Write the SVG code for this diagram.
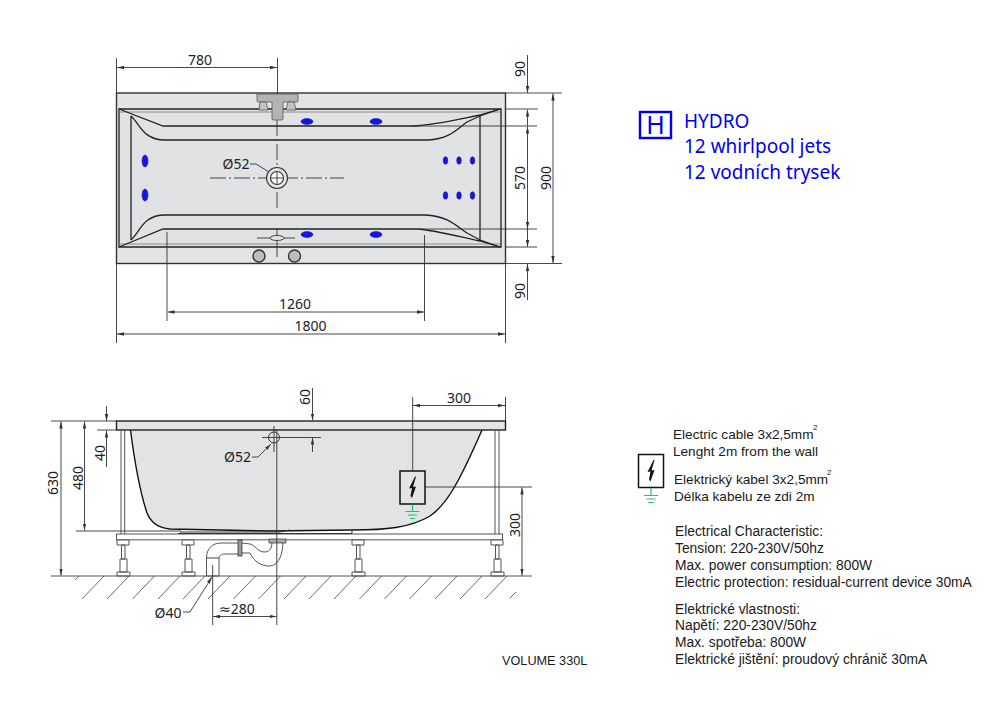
<svg xmlns="http://www.w3.org/2000/svg" width="1000" height="720" viewBox="0 0 1000 720">
<style>
text{font-family:"Liberation Sans",Arial,sans-serif;fill:#1a1a1a}
.d{font-family:"Noto Sans","DejaVu Sans",sans-serif;font-size:14px;fill:#222}
.b{font-family:"Noto Sans","DejaVu Sans",sans-serif;font-size:19px;fill:#0000f0}
.t{font-size:13.8px}
.e{font-size:13.6px}
.s{font-size:8px}
.l{fill:none;stroke:#333;stroke-width:.9}
.da{fill:none;stroke:#333;stroke-width:.9;marker-start:url(#a);marker-end:url(#a)}
.de{fill:none;stroke:#333;stroke-width:.9;marker-end:url(#a)}
.o{fill:none;stroke:#222;stroke-width:1.3}
.h{fill:none;stroke:#444;stroke-width:.8}
.m{fill:#fff;stroke:#555;stroke-width:1}
.j{fill:#1414f0;stroke:#101060;stroke-width:.5}
.g{fill:none;stroke:#1cc468;stroke-width:1.2}
.c{fill:none;stroke:#333;stroke-width:.9;stroke-dasharray:16 3 2 3}
</style>
<defs>
<marker id="a" viewBox="0 0 7 4" refX="7" refY="2" markerWidth="7" markerHeight="4" markerUnits="userSpaceOnUse" orient="auto-start-reverse"><path d="M0 0.3L7 2L0 3.7z" fill="#333"/></marker>
<path id="bolt" d="M2.5-10.5L-3.5 1.5L-.5 1L-2 9L-.5 11L3.5-.5L.5 0L3.5-10.5z" fill="#111"/>
</defs>

<g id="top-view">
<rect x="116.5" y="93" width="389" height="170.5" fill="#e3e4e6" stroke="#333" stroke-width="1.4"/>
<path d="M119 109H501V247H119z" fill="#e1e2e4" stroke="#222" stroke-width="1.3"/>
<path d="M119 112H500M119 244H500" fill="none" stroke="#777" stroke-width=".8"/>
<path class="o" d="M131 116V240M480 116V241"/>
<path class="o" d="M119 109L163 126H413C435 125 460 119 480 115L500 109"/>
<path class="o" d="M131 116C140 124 143 140 165 140H428C450 139 458 128 467 122L480 116L500 109"/>
<path class="o" d="M119 247L163 229H417C435 230 460 237 480 241L500 247"/>
<path class="o" d="M131 240C140 232 143 215 165 215H425C450 216 458 228 467 233L480 240L500 247"/>
</g>

<g id="faucet">
<path d="M257 94H298V101Q298 102 296 102H283V119Q283 120 281 120H274Q272 120 272 119V102H259Q257 102 257 101z" fill="#b4b4b4" stroke="#555" stroke-width=".8"/>
<path d="M260 102H266L268 110H259zM288 102H294L296 110H286z" fill="#c4c4c4" stroke="#555" stroke-width=".8"/>
</g>

<g id="jets">
<ellipse class="j" cx="145" cy="161" rx="3" ry="6"/>
<ellipse class="j" cx="145" cy="195" rx="3" ry="6"/>
<ellipse class="j" cx="307" cy="121.5" rx="6" ry="3"/>
<ellipse class="j" cx="376" cy="121.5" rx="6" ry="3"/>
<ellipse class="j" cx="307" cy="234.5" rx="6" ry="3"/>
<ellipse class="j" cx="376" cy="234.5" rx="6" ry="3"/>
<ellipse class="j" cx="445.5" cy="160.5" rx="2.3" ry="3.8"/>
<ellipse class="j" cx="459" cy="160.5" rx="2.3" ry="3.8"/>
<ellipse class="j" cx="472.5" cy="160.5" rx="2.3" ry="3.8"/>
<ellipse class="j" cx="445.5" cy="195.5" rx="2.3" ry="3.8"/>
<ellipse class="j" cx="459" cy="195.5" rx="2.3" ry="3.8"/>
<ellipse class="j" cx="472.5" cy="195.5" rx="2.3" ry="3.8"/>
</g>

<g id="waste-top">
<path class="c" d="M210 178H344M277 120V208"/>
<circle cx="277" cy="178" r="10.5" fill="#e3e4e6" stroke="#333" stroke-width="1.1"/>
<circle cx="277" cy="178" r="6.5" fill="#fff" stroke="#333" stroke-width="1.1"/>
<path class="l" d="M277 171V185M270 178H284"/>
<path class="l" d="M250 164H256L269 172"/>
<path class="l" d="M257 238H295M277 228V257"/>
<ellipse cx="277" cy="238" rx="7" ry="2.5" fill="#e3e4e6" stroke="#444" stroke-width="1"/>
<circle cx="259" cy="256" r="6" fill="#bdbdbd" stroke="#333" stroke-width="1.4"/>
<circle cx="294.5" cy="256" r="6" fill="#bdbdbd" stroke="#333" stroke-width="1.4"/>
</g>

<g id="top-dimensions">
<path class="l" d="M116.5 58V93M277.5 58V94M116.5 264V343M505.5 264V343M167 232V321M424.5 235V321"/>
<path class="l" d="M505 93H562M505 109H538M413 126H537M418 229H537M505 247H537M505 263.5H562"/>
<path class="da" d="M117 67.5H277"/>
<path class="da" d="M167.5 312H424"/>
<path class="da" d="M117 334H505"/>
<path class="da" d="M553 93.5V263"/>
<path class="da" d="M527.5 126.5V229"/>
<path class="de" d="M527.5 55V93"/>
<path class="de" d="M527.5 126V109.5"/>
<path class="de" d="M527.5 229V247"/>
<path class="de" d="M527.5 300V264"/>
<text class="d" x="200" y="65" text-anchor="middle">780</text>
<text class="d" x="295" y="309" text-anchor="middle">1260</text>
<text class="d" x="310.500" y="331" text-anchor="middle">1800</text>
<text class="d" x="236" y="169" text-anchor="middle">Ø52</text>
<text class="d" transform="translate(525 69) rotate(-90)" text-anchor="middle">90</text>
<text class="d" transform="translate(525 178) rotate(-90)" text-anchor="middle">570</text>
<text class="d" transform="translate(551 178) rotate(-90)" text-anchor="middle">900</text>
<text class="d" transform="translate(525 291) rotate(-90)" text-anchor="middle">90</text>
</g>

<g id="hydro-legend">
<rect x="640" y="112" width="31" height="26" fill="none" stroke="#0000f0" stroke-width="2.4"/>
<text class="b" x="655.500" y="134" text-anchor="middle" style="font-size:25px">H</text>
<text class="b" x="684" y="128">HYDRO</text>
<text class="b" x="684" y="153">12 whirlpool jets</text>
<text class="b" x="684" y="179">12 vodních trysek</text>
</g>

<g id="side-view">
<path d="M130.500 430C135 465 141 495 147 513C151 523 158 528 170 529L270 531L352 530C385 530 410 528 430 516C446 505 458 485 482 430z" fill="#e2e3e5" stroke="none"/>
<path d="M130.500 430C135 465 141 495 147 513C151 523 158 528 170 529L270 531L352 530C385 530 410 528 430 516C446 505 458 485 482 430" fill="none" stroke="#111" stroke-width="1.4"/>
<rect x="116.500" y="421" width="389" height="9" fill="#e4e5e6" stroke="#222" stroke-width="1.4"/>
<path class="m" d="M121 430V534M124.700 430V534M495 430V534M499 430V534" fill="none"/>
<rect x="116.500" y="534" width="386" height="5.800" fill="#fff" stroke="#555" stroke-width="1"/>
<path d="M180 532H280L290 530M352 530V533.500H178" fill="none" stroke="#333" stroke-width="1"/>
</g>

<g id="legs">
<path class="m" d="M117 540H129V545H117zM121.500 545H125V559H121.500zM120 559H127V572H120zM117 572H130V576H117z"/>
<path class="m" d="M182 540H194V545H182zM186.500 545H190V559H186.500zM185 559H192V572H185zM182 572H195V576H182z"/>
<path class="m" d="M352 540H364V545H352zM356.500 545H360V559H356.500zM355 559H362V572H355zM352 572H365V576H352z"/>
<path class="m" d="M491 540H503V545H491zM495.500 545H499V559H495.500zM494 559H501V572H494zM491 572H504V576H491z"/>
</g>

<g id="drain">
<path d="M206.500 576V558C206.500 549 212 543 221 543H239V554H225C221 554 219 556 219 559V576z" fill="#fff" stroke="#555" stroke-width="1"/>
<path class="l" d="M206.500 558H219"/>
<rect x="238" y="540" width="4" height="16" fill="#999" stroke="#333" stroke-width=".8"/>
<path d="M242 543L250 544C255 545 258 552 264 552C272 552 272 545 272 540M250 553C254 562 262 566 269 566C278 566 283 556 283 540M242 553H250" fill="none" stroke="#555" stroke-width="1"/>
<path d="M269 539H286V543H269z" fill="#aaa" stroke="#444" stroke-width=".8"/>
</g>

<g id="ground">
<path d="M51 576H532" fill="none" stroke="#555" stroke-width="1.2"/>
<path class="h" d="M79 576L75 580M104 576L82 599M129 576L107 599M154.500 576L132.500 599M180 576L158 599M205 576L183 599M230 576L208 599M255.500 576L233.500 599M280.500 576L258.500 599M306 576L284 599M331 576L309 599M356 576L334 599M381.500 576L359.500 599M406.500 576L384.500 599M431.500 576L409.500 599M457 576L435 599M482 576L460 599M507 576L485 599M516 592L509.500 598.500"/>
</g>

<g id="side-details">
<circle cx="274" cy="437.500" r="5.500" fill="#e3e4e6" stroke="#333" stroke-width="1"/>
<path class="l" d="M262 437.500H321M274 426V452"/>
<path class="de" d="M252 457H258L271 444"/>
</g>

<g id="electric-box">
<rect x="400" y="471" width="25" height="33" fill="#e2e3e5" stroke="#111" stroke-width="1.500"/>
<use href="#bolt" x="412.500" y="487"/>
<path class="g" d="M412.500 504.500V511M405.500 511.500H419.500M408 515H417M410 518.500H415"/>
</g>

<g id="side-dimensions">
<path class="l" d="M51 421H116M97 430H116M76 531H181M412.700 397V471M505.500 397V421M425 487H532"/>
<path class="da" d="M61 421.500V575.500"/>
<path class="da" d="M84.500 421.500V530.500"/>
<path class="de" d="M106.500 406V421"/>
<path class="de" d="M106.500 467V430.500"/>
<path class="de" d="M312.500 388V420.500"/>
<path class="de" d="M312.500 452V437.500"/>
<path class="da" d="M413 405.500H505"/>
<path class="da" d="M522 487.500V575.500"/>
<path class="l" d="M212.700 565V625M276.800 430V625"/>
<path class="da" d="M213 616.500H276.500"/>
<path class="de" d="M183 612H190L212 577"/>
<text class="d" transform="translate(58 483) rotate(-90)" text-anchor="middle">630</text>
<text class="d" transform="translate(83 478) rotate(-90)" text-anchor="middle">480</text>
<text class="d" transform="translate(105 453) rotate(-90)" text-anchor="middle">40</text>
<text class="d" transform="translate(310 397) rotate(-90)" text-anchor="middle">60</text>
<text class="d" transform="translate(520 525) rotate(-90)" text-anchor="middle">300</text>
<text class="d" x="459" y="403" text-anchor="middle">300</text>
<text class="d" x="237.500" y="462" text-anchor="middle">Ø52</text>
<text class="d" x="168" y="618" text-anchor="middle">Ø40</text>
<text class="d" x="237" y="614" text-anchor="middle">≈280</text>
</g>

<g id="electric-legend">
<rect x="638.500" y="454.500" width="25" height="33" fill="#fff" stroke="#111" stroke-width="1.500"/>
<use href="#bolt" x="651" y="470.500"/>
<path class="g" d="M651 488V495M644 495.500H658M646.500 499H655.500M648.500 502.500H653.500"/>
<text class="e" x="673" y="439">Electric cable 3x2,5mm</text>
<text class="s" x="813" y="430">2</text>
<text class="e" x="673" y="456">Lenght 2m from the wall</text>
<text class="e" x="674" y="484">Elektrický kabel 3x2,5mm</text>
<text class="s" x="827" y="475">2</text>
<text class="e" x="674" y="501">Délka kabelu ze zdi 2m</text>
<text class="t" x="675" y="536">Electrical Characteristic:</text>
<text class="t" x="675" y="553">Tension: 220-230V/50hz</text>
<text class="t" x="675" y="570">Max. power consumption: 800W</text>
<text class="t" x="675" y="587">Electric protection: residual-current device 30mA</text>
<text class="t" x="675" y="614">Elektrické vlastnosti:</text>
<text class="t" x="675" y="630">Napětí: 220-230V/50hz</text>
<text class="t" x="675" y="647">Max. spotřeba: 800W</text>
<text class="t" x="675" y="664">Elektrické jištění: proudový chránič 30mA</text>
<text x="502" y="665" style="font-size:12.7px">VOLUME 330L</text>
</g>
</svg>
